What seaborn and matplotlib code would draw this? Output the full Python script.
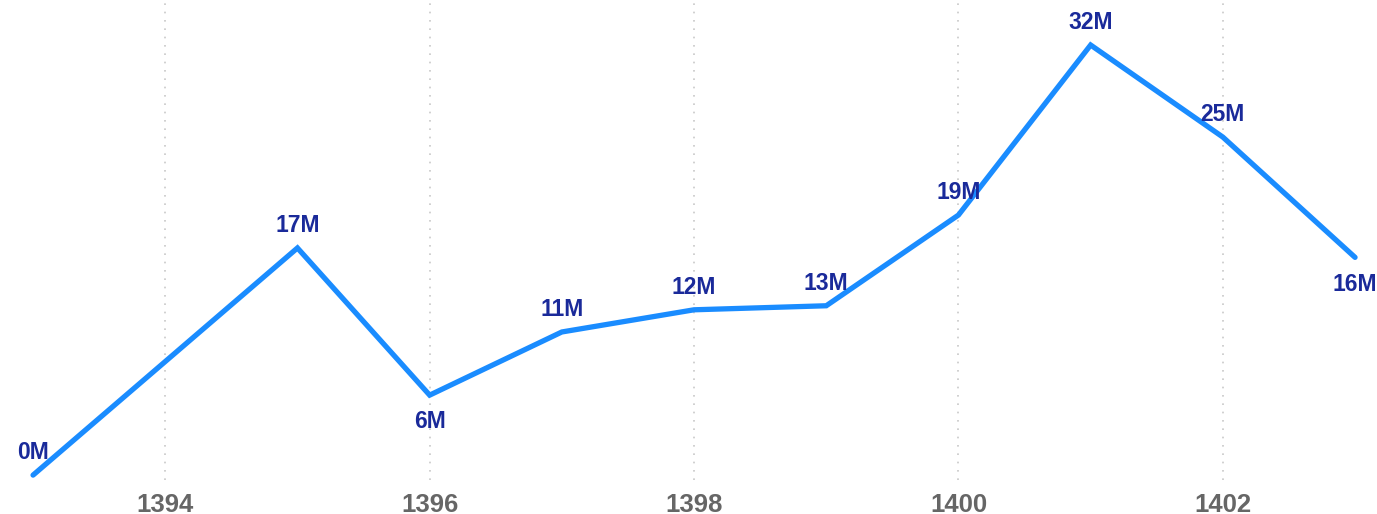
import numpy as np
import pandas as pd
import matplotlib
matplotlib.use('Agg')
import matplotlib.pyplot as plt
from matplotlib import font_manager
import seaborn as sns

# data (1394 has no point, the line just runs through)
years = [1393, 1395, 1396, 1397, 1398, 1399, 1400, 1401, 1402, 1403]
values = [0.0, 16.9, 5.95, 10.65, 12.3, 12.6, 19.35, 32.0, 25.15, 16.2]
label_below = [False, False, True, False, False, False, False, False, False, True]
tick_years = [1394, 1396, 1398, 1400, 1402]

df = pd.DataFrame({'year': years, 'value': values})

sns.set_theme(style='white')
plt.rcParams['font.family'] = ['Liberation Sans', 'DejaVu Sans']

# pick the regular-width bold Liberation Sans file (not the Narrow one)
bold_file = None
for f in font_manager.fontManager.ttflist:
    if f.name == 'Liberation Sans' and 'Narrow' not in f.fname and 'Bold' in f.fname and 'Italic' not in f.fname:
        bold_file = f.fname
        break
if bold_file:
    label_font = font_manager.FontProperties(fname=bold_file, size=16.5)
    tick_font = font_manager.FontProperties(fname=bold_file, size=18.5)
else:
    label_font = font_manager.FontProperties(family='DejaVu Sans', weight='bold', size=15)
    tick_font = font_manager.FontProperties(family='DejaVu Sans', weight='bold', size=17)

fig = plt.figure(figsize=(13.77, 5.14), dpi=100)
ax = fig.add_axes([0, 0.066, 1, 0.934])

sns.lineplot(data=df, x='year', y='value', ax=ax, color='#1a8cff',
             linewidth=3.8, solid_capstyle='round', solid_joinstyle='miter')

for x, v, below in zip(years, values, label_below):
    if below:
        ax.annotate(f'{v:.0f}M', (x, v), xytext=(0, -11), textcoords='offset points',
                    ha='center', va='top', fontproperties=label_font, color='#1a2a9a')
    else:
        ax.annotate(f'{v:.0f}M', (x, v), xytext=(0, 8), textcoords='offset points',
                    ha='center', va='bottom', fontproperties=label_font, color='#1a2a9a')

ax.set_xlim(1392.75, 1403.166)
ax.set_ylim(-0.37, 35.35)
ax.set_xticks(tick_years)
ax.set_xticklabels([str(t) for t in tick_years], fontproperties=tick_font, color='#666666')
ax.set_yticks([])
ax.tick_params(axis='x', length=0, pad=9)
ax.xaxis.grid(True, linestyle=(0, (1, 4)), color='#c8c8c8', linewidth=1.2)
ax.set_xlabel('')
ax.set_ylabel('')
sns.despine(ax=ax, left=True, bottom=True)

fig.savefig('out.png', dpi=100)
